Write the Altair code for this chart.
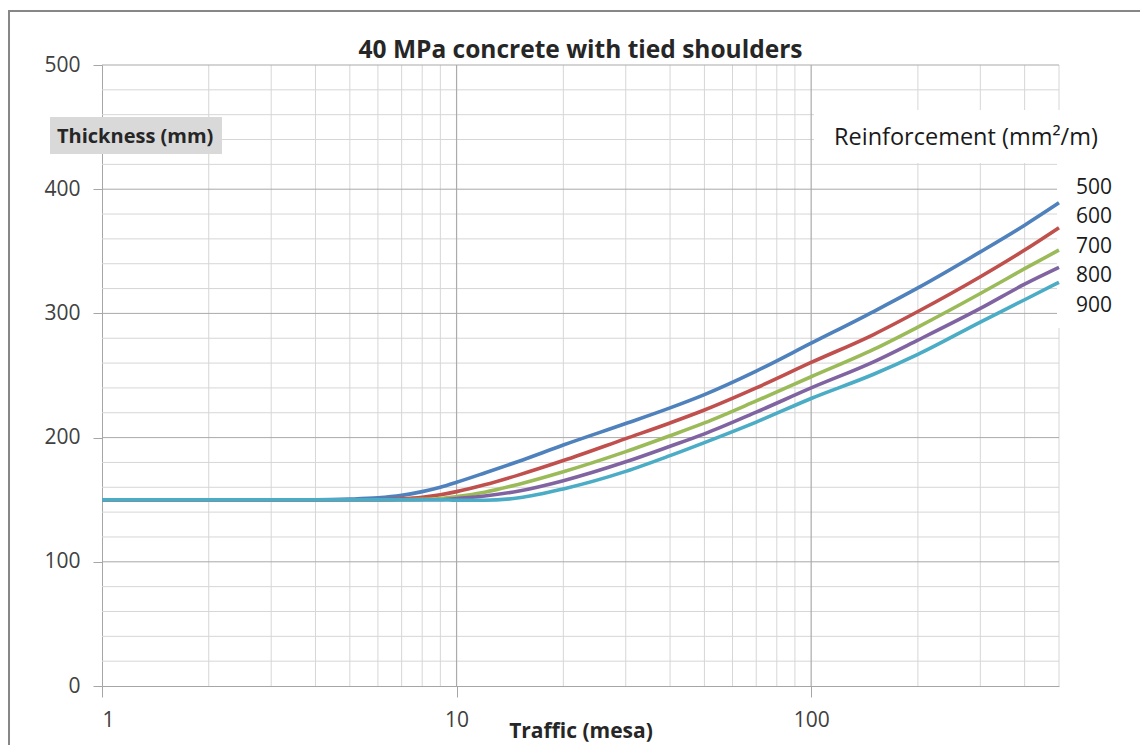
import altair as alt
import pandas as pd

# ---------------- data ----------------
traffic = [1, 2, 3, 4, 5, 6, 7, 8, 9, 10, 12, 15, 20, 30, 40, 50, 70, 100,
           150, 200, 300, 400, 500]
reinforcement = ["500", "600", "700", "800", "900"]
t500 = [150, 150, 150, 150, 150.5, 151.5, 153.5, 156.5, 160, 164, 171.5, 181, 194,
        211.3, 223.9, 234.6, 253.5, 276, 301.5, 320.5, 349.5, 371, 389]
t600 = [150, 150, 150, 150, 150, 150, 150.7, 152, 154, 156.5, 162, 170, 181.5,
        199.2, 211.8, 222.2, 240, 260.5, 283, 301.5, 329.5, 351, 369]
t700 = [150, 150, 150, 150, 150, 150, 150, 150.3, 151, 152.5, 156, 162.5, 172.5,
        188.7, 201.5, 211.8, 229.5, 249, 271, 289, 316, 336, 351]
t800 = [150, 150, 150, 150, 150, 150, 150, 150, 150, 151, 153, 157, 165.3,
        180.5, 193, 203, 220.5, 240, 261, 278.5, 304, 323.5, 337]
t900 = [150, 150, 150, 150, 150, 150, 150, 150, 150, 149.5, 149.5, 151.5, 158.7,
        172.8, 185.5, 196, 212.5, 231.5, 251, 267, 293, 311, 325]
series = [t500, t600, t700, t800, t900]
colors = ["#4F81BD", "#C0504D", "#9BBB59", "#8064A2", "#4BACC6"]

x_ticks = [1, 10, 100]
x_minor = [2, 3, 4, 5, 6, 7, 8, 9, 20, 30, 40, 50, 60, 70, 80, 90, 200, 300, 400, 500]
x_major = [10, 100]
y_ticks = [0, 100, 200, 300, 400, 500]
y_minor = [20, 40, 60, 80, 120, 140, 160, 180, 220, 240, 260, 280,
           320, 340, 360, 380, 420, 440, 460, 480]
y_major = [100, 200, 300, 400, 500]

title_text = "40 MPa concrete with tied shoulders"
y_title_text = "Thickness (mm)"
x_title_text = "Traffic (mesa)"
legend_title_text = "Reinforcement (mm\u00b2/m)"

# ---------------- build ----------------
rows = []
for r, vals in zip(reinforcement, series):
    for t, v in zip(traffic, vals):
        rows.append({"traffic": t, "thickness": v, "reinforcement": r})
df = pd.DataFrame(rows)

FONT = "Open Sans"
W, H = 957, 621
one = pd.DataFrame({"k": [0]})

xscale = alt.Scale(type="log", domain=[1, 500], nice=False)
yscale = alt.Scale(domain=[0, 500], nice=False)

xaxis = alt.Axis(values=x_ticks, format="d", grid=False, tickSize=11, tickColor="#a6a6a6",
                 domainColor="#a6a6a6", labelFont=FONT, labelFontSize=21,
                 labelColor="#404040", labelPadding=12, title=x_title_text,
                 titleFont=FONT, titleFontSize=21, titleFontWeight="bold",
                 titleColor="#262626", titleX=W / 2, titleY=51, titleAlign="center",
                 titleBaseline="alphabetic")
yaxis = alt.Axis(values=y_ticks, grid=False, tickSize=9, tickColor="#a6a6a6",
                 domainColor="#a6a6a6", labelFont=FONT, labelFontSize=21,
                 labelColor="#404040", labelPadding=13, title="")

def xenc(field):
    return alt.X(field, scale=xscale, axis=xaxis)

def yenc(field):
    return alt.Y(field, scale=yscale, axis=yaxis)

grid_x_minor = alt.Chart(pd.DataFrame({"traffic": x_minor})).mark_rule(
    color="#d6d6d6", strokeWidth=1).encode(x=xenc("traffic:Q"))
grid_x_major = alt.Chart(pd.DataFrame({"traffic": x_major})).mark_rule(
    color="#ababab", strokeWidth=1.2).encode(x=xenc("traffic:Q"))
grid_y_minor = alt.Chart(pd.DataFrame({"thickness": y_minor})).mark_rule(
    color="#d6d6d6", strokeWidth=1).encode(y=yenc("thickness:Q"))
grid_y_major = alt.Chart(pd.DataFrame({"thickness": y_major})).mark_rule(
    color="#a9a9a9", strokeWidth=1).encode(y=yenc("thickness:Q"))

# white boxes behind the legend text (cover the grid as in the original)
box_title = alt.Chart(one).mark_rect(color="white").encode(
    x=alt.value(712), x2=alt.value(1040), y=alt.value(45), y2=alt.value(98))
box_labels = alt.Chart(one).mark_rect(color="white").encode(
    x=alt.value(955), x2=alt.value(1040), y=alt.value(98), y2=alt.value(263))

lines = alt.Chart(df).mark_line(strokeWidth=3.6, interpolate="monotone").encode(
    x=xenc("traffic:Q"),
    y=yenc("thickness:Q"),
    color=alt.Color("reinforcement:N",
                    scale=alt.Scale(domain=reinforcement, range=colors),
                    legend=alt.Legend(orient="none", legendX=953, legendY=112,
                                      title=None, symbolOpacity=0, symbolSize=0,
                                      symbolStrokeWidth=0, labelOffset=0, padding=0,
                                      labelFont=FONT, labelFontSize=21,
                                      labelColor="#1a1a1a", rowPadding=7.5)),
    order=alt.Order("traffic:Q"),
)

ytitle_box = alt.Chart(one).mark_rect(color="#d9d9d9").encode(
    x=alt.value(-52), x2=alt.value(120), y=alt.value(52), y2=alt.value(89))
ytitle = alt.Chart(one).mark_text(text=y_title_text, font=FONT, fontSize=20,
                                  fontWeight="bold", color="#262626", align="left",
                                  baseline="alphabetic").encode(
    x=alt.value(-45), y=alt.value(78))
legend_title = alt.Chart(one).mark_text(text=legend_title_text, font=FONT, fontSize=23.5,
                                        color="#1a1a1a", align="left",
                                        baseline="alphabetic").encode(
    x=alt.value(732), y=alt.value(80))
main_title = alt.Chart(one).mark_text(text=title_text, font=FONT, fontSize=24.5,
                                      fontWeight="bold", color="#262626", align="center",
                                      baseline="alphabetic").encode(
    x=alt.value(W / 2), y=alt.value(-7))

frame_left = alt.Chart(one).mark_rule(color="#878787", strokeWidth=2).encode(
    x=alt.value(-93), y=alt.value(-55), y2=alt.value(H + 80))
frame_top = alt.Chart(one).mark_rule(color="#878787", strokeWidth=2).encode(
    x=alt.value(-94), x2=alt.value(1040), y=alt.value(-54))

chart = alt.layer(
    grid_x_minor, grid_y_minor, grid_x_major, grid_y_major,
    box_title, box_labels, lines,
    ytitle_box, ytitle, legend_title, main_title, frame_left, frame_top,
).properties(
    width=W, height=H,
    autosize=alt.AutoSizeParams(type="none"),
    padding={"left": 94, "top": 57, "right": 81, "bottom": 59},
    background="white",
).configure_view(strokeWidth=0)

chart.save("out.html", embed_options={"renderer": "svg", "actions": False})
